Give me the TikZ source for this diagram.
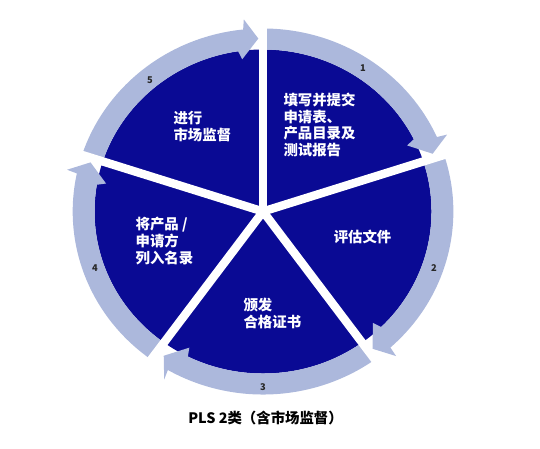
\documentclass[tikz,border=0pt]{standalone}
\usepackage{fontspec}
\newfontfamily\cjk{Noto Sans CJK SC}
\definecolor{piedark}{RGB}{10,10,148}
\definecolor{ringlight}{RGB}{172,184,220}
\definecolor{numgray}{RGB}{40,40,40}

\tikzset{every picture/.style={line width=0.75pt}}
\tikzset{
  pietext/.style={anchor=west, inner sep=0pt, align=left, text=white, font=\cjk\bfseries\fontsize{10.8}{12.5}\selectfont},
  ringnum/.style={inner sep=0pt, text=numgray, font=\cjk\bfseries\fontsize{7}{8}\selectfont},
  ringband/.style={fill=ringlight, draw=none},
  gapline/.style={draw=white, line width=6.3pt},
}

\begin{document}
\begin{tikzpicture}[x=0.78pt,y=0.75pt]
\useasboundingbox (-252.9,-236.5) rectangle (266.3,211.5);

%Shape: Circle [dark pie]
\fill [piedark] (0,0) circle [radius=162];

%Shape: Arc arrow [step 1]
\fill [ringband] (90:183) arc [start angle=90, end angle=24, radius=183] -- (23.5:193) -- (19.5:173) -- (25.5:153.5) -- (26.5:162) arc [start angle=26.5, end angle=90, radius=162] -- cycle ;
%Shape: Arc arrow [step 2]
\fill [ringband] (18:183) arc [start angle=18, end angle=-48, radius=183] -- (-48.5:193) -- (-52.5:173) -- (-46.5:153.5) -- (-45.5:162) arc [start angle=-45.5, end angle=18, radius=162] -- cycle ;
%Shape: Arc arrow [step 3]
\fill [ringband] (-54:183) arc [start angle=-54, end angle=-120, radius=183] -- (-119.5:193) -- (-123.5:173) -- (-117.5:153.5) -- (-116.5:162) arc [start angle=-116.5, end angle=-54, radius=162] -- cycle ;
%Shape: Arc arrow [step 4]
\fill [ringband] (-126:183) arc [start angle=-126, end angle=-192, radius=183] -- (-192.5:193) -- (-196.5:173) -- (-190.5:153.5) -- (-189.5:162) arc [start angle=-189.5, end angle=-126, radius=162] -- cycle ;
%Shape: Arc arrow [step 5]
\fill [ringband] (162:183) arc [start angle=162, end angle=96, radius=183] -- (95.5:193) -- (91.5:173) -- (97.5:153.5) -- (98.5:162) arc [start angle=98.5, end angle=162, radius=162] -- cycle ;

%Straight Lines [white gaps]
\draw [gapline] (0,0) -- (90:205) ;
\draw [gapline] (0,0) -- (18:205) ;
\draw [gapline] (0,0) -- (-54:205) ;
\draw [gapline] (0,0) -- (-126:205) ;
\draw [gapline] (0,0) -- (162:205) ;

% Text Node
\node [pietext] (submit) at (19.2,86.5) {填写并提交\\申请表、\\产品目录及\\测试报告};
% Text Node
\node [pietext, anchor=center] (assess) at (95.7,-25.5) {评估文件};
% Text Node
\node [pietext] (certify) at (-19.2,-102) {颁发\\合格证书};
% Text Node
\node [pietext] (listing) at (-123,-29.5) {将产品 /\\申请方\\列入名录};
% Text Node
\node [pietext] (market) at (-86.5,85) {进行\\市场监督};

% Text Node
\node [ringnum] (num1) at (96.2,143.5) {1};
% Text Node
\node [ringnum] (num2) at (164.4,-56.5) {2};
% Text Node
\node [ringnum] (num3) at (0,-175.5) {3};
% Text Node
\node [ringnum] (num4) at (-161.5,-56.5) {4};
% Text Node
\node [ringnum] (num5) at (-108.7,131.5) {5};

% Text Node
\node [inner sep=0pt, font=\cjk\bfseries\fontsize{10.8}{12}\selectfont] (caption) at (2.4,-206.5) {PLS 2类（含市场监督）};

\end{tikzpicture}
\end{document}
